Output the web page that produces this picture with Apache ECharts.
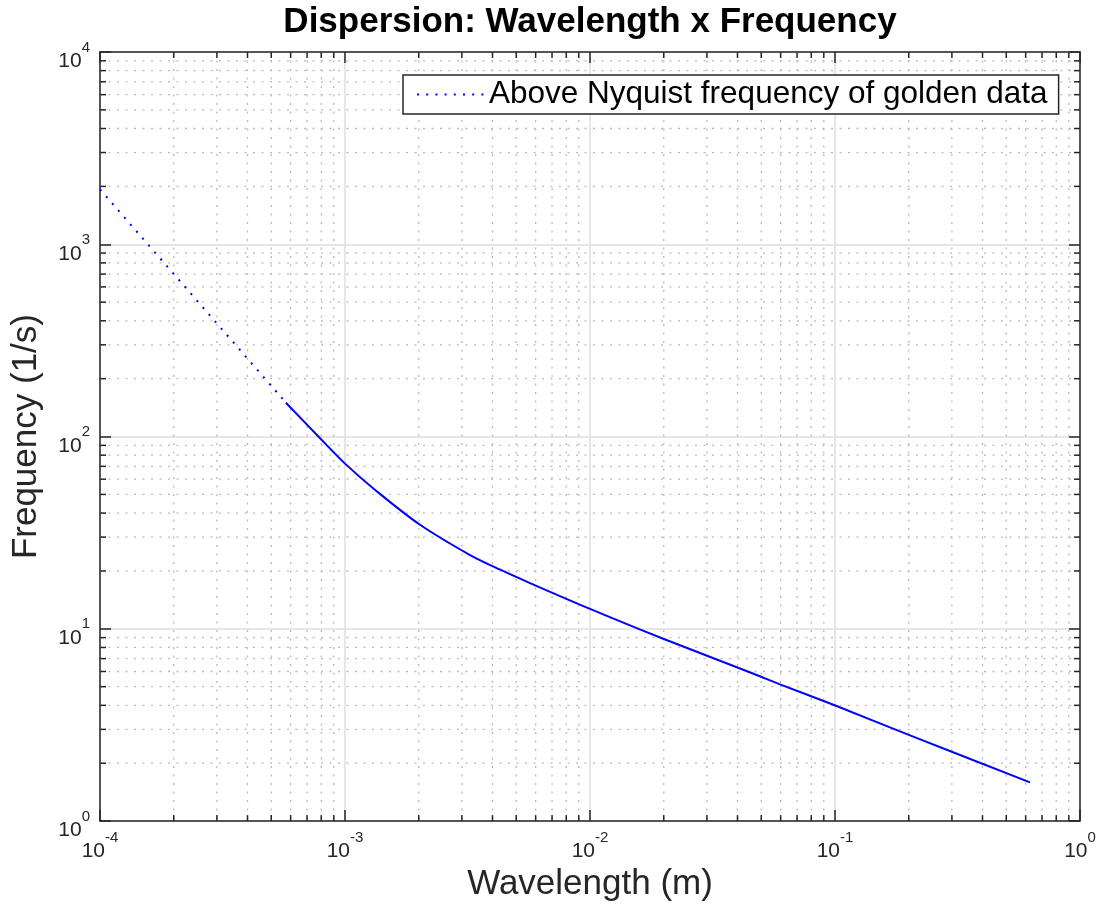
<!DOCTYPE html>
<html><head><meta charset="utf-8">
<script src="https://cdn.jsdelivr.net/npm/echarts@6/dist/echarts.min.js"></script>
<style>html,body{margin:0;padding:0;background:#fff}#c{width:1103px;height:907px}</style>
</head><body><div id="c"></div>
<script>
const titleText = 'Dispersion: Wavelength x Frequency';
const xName = 'Wavelength (m)';
const yName = 'Frequency (1/s)';
const legendName = 'Above Nyquist frequency of golden data';
const goldenName = 'Golden data';

// Solid curve
const wavelengthGolden = [5.74e-4, 7.91e-4, 1.0e-3, 1.346e-3, 2.01e-3, 3.24e-3, 4.30e-3, 5.69e-3, 1.0e-2, 0.0199, 0.0465, 0.0596, 0.1009, 0.2024, 0.625];
const frequencyGolden  = [150, 98, 72.3, 52.0, 35.0, 24.2, 20.3, 17.3, 12.7, 8.88, 5.84, 5.14, 3.98, 2.79, 1.59];

// Dotted segment above Nyquist frequency
const wavelengthNyquist = [1e-4, 2.9e-4, 5.74e-4];
const frequencyNyquist  = [1930, 407, 150];

// Axis ranges (decades)
const xMin = 1e-4, xMax = 1;
const yMin = 1, yMax = 1e4;
const mantissas = [2, 3, 4, 5, 6, 7, 8, 9];
const xDecades = [1e-4, 1e-3, 1e-2, 1e-1];
const yDecades = [1, 10, 100, 1000];

const FONT = '"Liberation Sans", Arial, Helvetica, sans-serif';
const AX = '#262626';

const minorData = [];
xDecades.forEach(d => mantissas.forEach(m => minorData.push([m * d, yMin, 0])));
yDecades.forEach(d => mantissas.forEach(m => minorData.push([xMin, m * d, 1])));

function pairs(xs, ys) { return xs.map((x, i) => [x, ys[i]]); }

function expLabel(v) {
  const e = Math.round(Math.log10(v));
  return '{b|10}{s|' + e + '}';
}
const rich = {
  b: { fontSize: 21, fontFamily: FONT, color: AX, lineHeight: 32, verticalAlign: 'bottom' },
  s: { fontSize: 15, fontFamily: FONT, color: AX, lineHeight: 14, verticalAlign: 'top' }
};

function renderMinor(params, api) {
  const kind = api.value(2);
  const cs = params.coordSys;
  const dash = [2, 6.5];
  const gridStyle = { stroke: '#bababa', lineWidth: 1.3, lineDash: dash, fill: null };
  const tickStyle = { stroke: AX, lineWidth: 1.5, fill: null };
  const tl = 6;
  const ch = [];
  if (kind === 0) {
    const px = api.coord([api.value(0), yMin])[0];
    ch.push({ type: 'line', shape: { x1: px, y1: cs.y, x2: px, y2: cs.y + cs.height }, style: gridStyle });
    ch.push({ type: 'line', shape: { x1: px, y1: cs.y + cs.height, x2: px, y2: cs.y + cs.height - tl }, style: tickStyle });
    ch.push({ type: 'line', shape: { x1: px, y1: cs.y, x2: px, y2: cs.y + tl }, style: tickStyle });
  } else {
    const py = api.coord([xMin, api.value(1)])[1];
    ch.push({ type: 'line', shape: { x1: cs.x, y1: py, x2: cs.x + cs.width, y2: py }, style: gridStyle });
    ch.push({ type: 'line', shape: { x1: cs.x, y1: py, x2: cs.x + tl, y2: py }, style: tickStyle });
    ch.push({ type: 'line', shape: { x1: cs.x + cs.width, y1: py, x2: cs.x + cs.width - tl, y2: py }, style: tickStyle });
  }
  return { type: 'group', children: ch };
}

const chart = echarts.init(document.getElementById('c'), null, { renderer: 'canvas' });
const axisCommon = {
  type: 'log', logBase: 10,
  axisLine: { show: true, onZero: false, lineStyle: { color: AX, width: 1.5 } },
  axisTick: { show: true, inside: true, length: 11, lineStyle: { color: AX, width: 1.5 } },
  minorTick: { show: false }, minorSplitLine: { show: false }
};
chart.setOption({
  animation: false,
  backgroundColor: '#ffffff',
  grid: { left: 100, right: 23, top: 52, bottom: 79, containLabel: false },
  graphic: [{
    type: 'text', x: 590, y: 22, z: 10,
    style: { text: titleText, font: 'bold 35px ' + FONT, fill: '#000', textAlign: 'center', textVerticalAlign: 'middle' }
  }],
  legend: {
    data: [legendName],
    left: 403, top: 75,
    orient: 'horizontal',
    backgroundColor: '#ffffff',
    borderColor: AX, borderWidth: 1.5, borderRadius: 0,
    padding: [3, 11, 3, 13],
    itemWidth: 67, itemHeight: 14,
    itemStyle: { opacity: 0 },
    textStyle: { fontSize: 31.5, fontFamily: FONT, color: '#000', lineHeight: 33 },
    selectedMode: false
  },
  xAxis: [
    Object.assign({}, axisCommon, {
      min: xMin, max: xMax, position: 'bottom',
      name: xName, nameLocation: 'middle', nameGap: 40,
      nameTextStyle: { fontSize: 35, fontFamily: FONT, color: AX },
      axisLabel: { margin: 9, formatter: expLabel, rich: rich, showMinLabel: true, showMaxLabel: true },
      splitLine: { show: true, lineStyle: { color: '#dedede', width: 1.5 } }
    }),
    Object.assign({}, axisCommon, {
      min: xMin, max: xMax, position: 'top',
      axisLabel: { show: false }, splitLine: { show: false }
    })
  ],
  yAxis: [
    Object.assign({}, axisCommon, {
      min: yMin, max: yMax, position: 'left',
      name: yName, nameLocation: 'middle', nameGap: 56,
      nameTextStyle: { fontSize: 35, fontFamily: FONT, color: AX },
      axisLabel: { margin: 10, formatter: expLabel, rich: rich, padding: [8, 0, 0, 0], showMinLabel: true, showMaxLabel: true },
      splitLine: { show: true, lineStyle: { color: '#dedede', width: 1.5 } }
    }),
    Object.assign({}, axisCommon, {
      min: yMin, max: yMax, position: 'right',
      axisLabel: { show: false }, splitLine: { show: false }
    })
  ],
  series: [
    {
      type: 'custom', name: 'minor', xAxisIndex: 0, yAxisIndex: 0,
      data: minorData, renderItem: renderMinor, z: 1, silent: true, clip: false
    },
    {
      type: 'line', name: goldenName, xAxisIndex: 0, yAxisIndex: 0,
      data: pairs(wavelengthGolden, frequencyGolden),
      symbol: 'none', smooth: 0.3, z: 5,
      lineStyle: { color: '#0000ff', width: 2 }
    },
    {
      type: 'line', name: legendName, xAxisIndex: 0, yAxisIndex: 0,
      data: pairs(wavelengthNyquist, frequencyNyquist),
      symbol: 'none', z: 5,
      itemStyle: { color: '#0000ff' },
      lineStyle: { color: '#0000ff', width: 2, type: [2, 7.2] }
    }
  ]
});
</script></body></html>
